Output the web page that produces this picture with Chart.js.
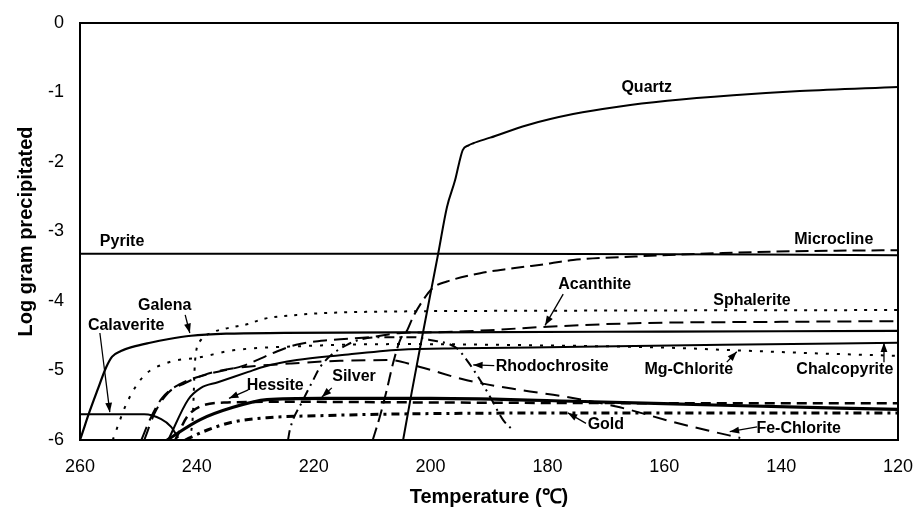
<!DOCTYPE html>
<html>
<head>
<meta charset="utf-8">
<script src="https://cdn.jsdelivr.net/npm/chart.js@4.4.0/dist/chart.umd.min.js"></script>
<style>
  html, body { margin: 0; padding: 0; background: #fff; }
  #wrap { width: 917px; height: 509px; }
</style>
</head>
<body>
<div id="wrap"><canvas id="chart" width="917" height="509"></canvas></div>
<script>
// [temperature (C), log gram precipitated]
const quartz = [[204.7,-6],[203.2,-5.3],[201.7,-4.63],[198.7,-3.32],[197.2,-2.65],[195.8,-2.26],[195.1,-2.01],[194.5,-1.83],[193.5,-1.76],[192.7,-1.73],[189.8,-1.65],[183.5,-1.47],[175.6,-1.31],[167.6,-1.2],[159.5,-1.12],[148.2,-1.04],[136.8,-0.98],[120,-0.92]];
const pyrite = [[260,-3.32],[190,-3.32],[120,-3.34]];
const microcline = [[209.9,-6],[208.7,-5.67],[207.5,-5.28],[206.4,-4.89],[205.2,-4.56],[204,-4.42],[203,-4.23],[201.3,-3.99],[199.6,-3.81],[197.2,-3.72],[191.5,-3.6],[185.9,-3.53],[179.6,-3.46],[175.6,-3.41],[165,-3.36],[150,-3.31],[135,-3.28],[120,-3.27]];
const acanthite = [[249.5,-6],[248,-5.7],[246,-5.4],[243,-5.2],[238,-5.05],[232,-4.93],[227,-4.75],[223,-4.63],[217,-4.56],[210.4,-4.52],[205,-4.46],[199,-4.45],[190,-4.42],[180,-4.37],[165,-4.32],[140,-4.3],[120,-4.29]];
const sphalerite = [[241.5,-6],[240.7,-5.67],[240.3,-4.85],[239.3,-4.56],[237.6,-4.46],[234.7,-4.39],[231.2,-4.33],[228.7,-4.26],[222.9,-4.2],[217.2,-4.17],[205.2,-4.15],[180,-4.14],[120,-4.13]];
const galena = [[260,-6],[259.6,-5.9],[258.4,-5.6],[257,-5.28],[255.5,-4.95],[254.5,-4.8],[253,-4.72],[251,-4.66],[248,-4.6],[245,-4.55],[241,-4.5],[235,-4.47],[225,-4.46],[200,-4.45],[160,-4.44],[120,-4.43]];
const calaverite = [[260,-5.63],[249,-5.63],[246.1,-5.7],[244.4,-5.81],[243.2,-5.97]];
const chalcopyrite = [[244.9,-6],[241.5,-5.42],[239.3,-5.25],[236.4,-5.17],[231.2,-5.02],[228.7,-4.95],[222.9,-4.85],[215.5,-4.78],[205.2,-4.7],[195,-4.68],[174.4,-4.66],[150,-4.63],[120,-4.6]];
const mgChlorite = [[254.4,-6],[252,-5.47],[249.2,-5.09],[245.1,-4.89],[239.5,-4.81],[233.8,-4.71],[222.3,-4.65],[205,-4.62],[180,-4.64],[160,-4.67],[147.6,-4.71],[135,-4.75],[120,-4.79]];
const rhodochrosite = [[224.4,-6],[224.1,-5.86],[221.8,-5.42],[220.1,-5.14],[218.9,-4.95],[214.3,-4.63],[208.7,-4.52],[203,-4.52],[200.1,-4.56],[195.5,-4.68],[193.8,-4.85],[191.5,-5.14],[189.8,-5.38],[187.6,-5.71],[185.9,-5.86]];
const hessite = [[243.7,-6],[241.7,-5.67],[239.5,-5.52],[234.8,-5.46],[225,-5.45],[200,-5.46],[160,-5.47],[120,-5.47]];
const silver = [[245.1,-6],[239.5,-5.71],[233.8,-5.53],[228,-5.42],[218.9,-5.4],[200,-5.4],[172.2,-5.45],[150,-5.5],[120,-5.56]];
const gold = [[242,-6],[238.3,-5.86],[233.8,-5.74],[228,-5.68],[218.9,-5.65],[200,-5.62],[160,-5.61],[120,-5.61]];
const feChlorite = [[249,-6],[247.2,-5.61],[244.9,-5.32],[242,-5.18],[238.6,-5.06],[235.2,-4.99],[231.8,-4.95],[224,-4.9],[215.5,-4.86],[206.9,-4.85],[201.8,-4.95],[193.8,-5.14],[184.7,-5.28],[176.7,-5.38],[167.6,-5.53],[158.5,-5.74],[152.7,-5.86],[147,-5.97]];

// label text, label position, optional arrow [from, to] (data units)
const notes = [
  { text: "Quartz", at: [163, -0.935] },
  { text: "Pyrite", at: [252.8, -3.15] },
  { text: "Microcline", at: [131, -3.12] },
  { text: "Acanthite", at: [171.9, -3.76], arrow: [[177.3, -3.9], [180.4, -4.35]] },
  { text: "Sphalerite", at: [145, -3.99] },
  { text: "Galena", at: [245.5, -4.07], arrow: [[242, -4.2], [241.2, -4.46]] },
  { text: "Calaverite", at: [252.1, -4.35], arrow: [[256.6, -4.46], [254.9, -5.6]] },
  { text: "Hessite", at: [226.6, -5.22], arrow: [[231.2, -5.28], [234.5, -5.4]] },
  { text: "Silver", at: [213.1, -5.09], arrow: [[216.9, -5.25], [218.6, -5.38]] },
  { text: "Rhodochrosite", at: [179.2, -4.94], arrow: [[189.1, -4.93], [192.7, -4.92]] },
  { text: "Mg-Chlorite", at: [155.8, -4.99], arrow: [[149.3, -4.88], [147.6, -4.73]] },
  { text: "Chalcopyrite", at: [129.1, -4.99], arrow: [[122.4, -4.88], [122.4, -4.6]] },
  { text: "Gold", at: [170, -5.78], arrow: [[173.4, -5.76], [176.5, -5.61]] },
  { text: "Fe-Chlorite", at: [137, -5.83], arrow: [[144.1, -5.81], [148.8, -5.88]] }
];

function line(label, points, width, dash) {
  return {
    label,
    data: points.map(p => ({ x: p[0], y: p[1] })),
    borderColor: "#000",
    borderWidth: width,
    borderDash: dash,
    pointRadius: 0,
    fill: false,
    cubicInterpolationMode: "monotone"
  };
}

const framePlugin = {
  id: "frame",
  afterDatasetsDraw(chart) {
    const { ctx, chartArea: a } = chart;
    ctx.save();
    ctx.strokeStyle = "#000";
    ctx.lineWidth = 2;
    ctx.strokeRect(a.left, a.top, a.right - a.left, a.bottom - a.top);
    ctx.restore();
  }
};

const notePlugin = {
  id: "notes",
  afterDatasetsDraw(chart) {
    const { ctx, scales: { x, y } } = chart;
    ctx.save();
    ctx.fillStyle = "#000";
    ctx.strokeStyle = "#000";
    ctx.font = "bold 16px Arial, 'Liberation Sans', sans-serif";
    ctx.textAlign = "center";
    ctx.textBaseline = "middle";
    notes.forEach(n => {
      ctx.fillText(n.text, x.getPixelForValue(n.at[0]), y.getPixelForValue(n.at[1]));
      if (!n.arrow) return;
      const x1 = x.getPixelForValue(n.arrow[0][0]), y1 = y.getPixelForValue(n.arrow[0][1]);
      const x2 = x.getPixelForValue(n.arrow[1][0]), y2 = y.getPixelForValue(n.arrow[1][1]);
      const ang = Math.atan2(y2 - y1, x2 - x1);
      ctx.lineWidth = 1.3;
      ctx.beginPath();
      ctx.moveTo(x1, y1);
      ctx.lineTo(x2, y2);
      ctx.stroke();
      ctx.beginPath();
      ctx.moveTo(x2, y2);
      ctx.lineTo(x2 - 10 * Math.cos(ang - 0.35), y2 - 10 * Math.sin(ang - 0.35));
      ctx.lineTo(x2 - 10 * Math.cos(ang + 0.35), y2 - 10 * Math.sin(ang + 0.35));
      ctx.closePath();
      ctx.fill();
    });
    ctx.restore();
  }
};

new Chart(document.getElementById("chart"), {
  type: "line",
  data: {
    datasets: [
      line("Quartz", quartz, 2, []),
      line("Pyrite", pyrite, 2, []),
      line("Microcline", microcline, 2, [13, 6]),
      line("Acanthite", acanthite, 2, [14, 7]),
      line("Sphalerite", sphalerite, 2, [3, 7]),
      line("Galena", galena, 2.2, []),
      line("Calaverite", calaverite, 2, []),
      line("Chalcopyrite", chalcopyrite, 2, []),
      line("Mg-Chlorite", mgChlorite, 2, [3, 8]),
      line("Rhodochrosite", rhodochrosite, 2, [10, 5, 2, 5]),
      line("Hessite", hessite, 2.5, [10, 6]),
      line("Silver", silver, 3.2, []),
      line("Gold", gold, 3, [8, 5, 3, 5]),
      line("Fe-Chlorite", feChlorite, 2, [14, 8])
    ]
  },
  options: {
    responsive: false,
    animation: false,
    layout: { padding: { top: 23, right: 19, left: 0, bottom: 0 } },
    plugins: { legend: { display: false }, tooltip: { enabled: false } },
    scales: {
      x: {
        type: "linear",
        reverse: true,
        min: 120,
        max: 260,
        grid: { display: false, drawTicks: false },
        border: { display: false },
        ticks: { stepSize: 20, padding: 16, color: "#000", font: { family: "Arial", size: 18 } },
        title: { display: true, text: "Temperature (℃)", color: "#000", padding: { top: 0, bottom: 0 }, font: { family: "Arial", size: 20, weight: "bold" } },
        afterFit: axis => { axis.height = 69; axis.paddingLeft = 0; axis.paddingRight = 0; }
      },
      y: {
        min: -6,
        max: 0,
        grid: { display: false, drawTicks: false },
        border: { display: false },
        ticks: { stepSize: 1, padding: 16, color: "#000", font: { family: "Arial", size: 18 } },
        title: { display: true, text: "Log gram precipitated", color: "#000", padding: { top: 14, bottom: 0 }, font: { family: "Arial", size: 20, weight: "bold" } },
        afterFit: axis => { axis.width = 80; axis.paddingTop = 0; axis.paddingBottom = 0; }
      }
    }
  },
  plugins: [framePlugin, notePlugin]
});
</script>
</body>
</html>
